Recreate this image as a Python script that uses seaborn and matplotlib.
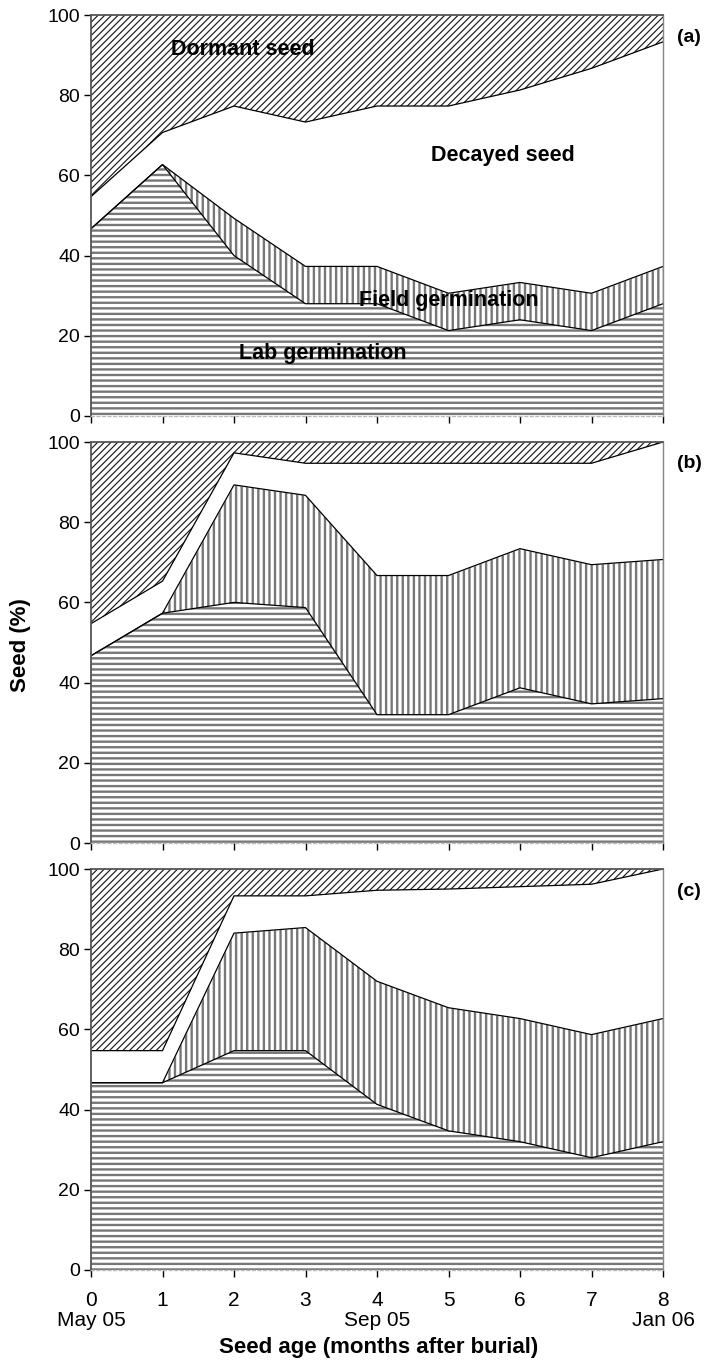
import matplotlib
matplotlib.use("Agg")
import numpy as np
import pandas as pd
import matplotlib.pyplot as plt
import seaborn as sns

# Seed age (months after burial) and calendar tick labels
months = [0, 1, 2, 3, 4, 5, 6, 7, 8]
month_labels = ["0\nMay 05", "1", "2", "3", "4\nSep 05", "5", "6", "7", "8\nJan 06"]
panel_tags = ["(a)", "(b)", "(c)"]

# Fate of buried seed (%), one set of series per panel
lab_a = [46.7, 62.7, 40.0, 28.0, 28.0, 21.3, 24.0, 21.3, 28.0]
field_a = [0.0, 0.0, 9.3, 9.3, 9.3, 9.3, 9.3, 9.3, 9.3]
dormant_a = [45.3, 29.3, 22.7, 26.7, 22.7, 22.7, 18.7, 13.3, 6.7]

lab_b = [46.7, 57.3, 60.0, 58.7, 32.0, 32.0, 38.7, 34.7, 36.0]
field_b = [0.0, 0.0, 29.3, 28.0, 34.7, 34.7, 34.7, 34.7, 34.7]
dormant_b = [45.3, 34.7, 2.7, 5.3, 5.3, 5.3, 5.3, 5.3, 0.0]

lab_c = [46.7, 46.7, 54.7, 54.7, 41.3, 34.7, 32.0, 28.0, 32.0]
field_c = [0.0, 0.0, 29.3, 30.7, 30.7, 30.7, 30.7, 30.7, 30.7]
dormant_c = [45.3, 45.3, 6.7, 6.7, 5.3, 5.0, 4.4, 3.8, 0.0]

panels = [
    (lab_a, field_a, dormant_a),
    (lab_b, field_b, dormant_b),
    (lab_c, field_c, dormant_c),
]

# Area labels drawn in the first panel: (text, month, percent)
area_labels = [
    ("Dormant seed", 2.13, 91.5),
    ("Decayed seed", 5.76, 65.0),
    ("Field germination", 5.0, 28.7),
    ("Lab germination", 3.24, 15.7),
]

sns.set_theme(style="ticks")
plt.rcParams["font.family"] = ["Liberation Sans", "DejaVu Sans"]
plt.rcParams["text.color"] = "black"
plt.rcParams["xtick.color"] = "black"
plt.rcParams["ytick.color"] = "black"
plt.rcParams["axes.labelcolor"] = "black"

fig = plt.figure(figsize=(7.07, 13.62), dpi=100)

left, width = 91 / 707, (663 - 91) / 707
tops_px = [15, 442, 869]
height_px = 401

# layer styles, bottom to top: hatch, hatch colour, hatch width
styles = [
    ("---", "#777777", 1.7),
    ("|||", "#777777", 1.7),
    (None, None, None),
    ("/////", "#1a1a1a", 0.85),
]


def hatched_fill(ax, x, lo, hi, hatch, color, lw):
    if hatch is None:
        ax.fill_between(x, lo, hi, facecolor="white", linewidth=0, zorder=1)
        return
    with plt.rc_context({"hatch.color": color, "hatch.linewidth": lw}):
        coll = ax.fill_between(x, lo, hi, facecolor="white", edgecolor=color,
                               hatch=hatch, linewidth=0, zorder=1)
    if hasattr(coll, "set_hatch_linewidth"):
        coll.set_hatch_linewidth(lw)
    if hasattr(coll, "set_hatchcolor"):
        coll.set_hatchcolor(color)


axes = []
for i, (lab, field, dormant) in enumerate(panels):
    top = tops_px[i]
    ax = fig.add_axes([left, 1 - (top + height_px) / 1362, width, height_px / 1362])
    axes.append(ax)

    lab = np.array(lab)
    field = np.array(field)
    dormant = np.array(dormant)
    decayed = 100 - lab - field - dormant
    layers = [lab, field, decayed, dormant]

    cum = np.vstack([np.zeros(len(months)), np.cumsum(layers, axis=0)])
    for k, (hatch, color, lw) in enumerate(styles):
        hatched_fill(ax, months, cum[k], cum[k + 1], hatch, color, lw)

    # boundary lines between the stacked layers
    bounds = pd.concat(
        [pd.DataFrame({"month": months, "pct": cum[k], "edge": k}) for k in (1, 2, 3)],
        ignore_index=True,
    )
    sns.lineplot(data=bounds, x="month", y="pct", units="edge", estimator=None,
                 color="black", linewidth=0.9, ax=ax, zorder=3, legend=False)

    ax.set_xlim(0, 8)
    ax.set_ylim(0, 100)
    ax.set_yticks([0, 20, 40, 60, 80, 100])
    ax.set_xticks(months)
    ax.set_xlabel("")
    ax.set_ylabel("")
    ax.tick_params(axis="y", labelsize=14, length=5, width=1, color="black",
                   labelcolor="black", direction="out", pad=3)
    ax.tick_params(axis="x", labelsize=15, length=5, width=1, color="black",
                   labelcolor="black", direction="out", pad=10)
    if i < 2:
        ax.set_xticklabels([])
    else:
        ax.set_xticklabels(month_labels, linespacing=1.1)

    for s in ["top", "right", "left", "bottom"]:
        ax.spines[s].set_visible(True)
        ax.spines[s].set_zorder(4)
    ax.spines["left"].set_color("#555555")
    ax.spines["left"].set_linewidth(1.3)
    ax.spines["top"].set_color("#555555")
    ax.spines["top"].set_linewidth(1.3)
    ax.spines["right"].set_color("#888888")
    ax.spines["right"].set_linewidth(1.0)
    ax.spines["right"].set_linestyle((0, (1, 1)))
    ax.spines["bottom"].set_color("#bbbbbb")
    ax.spines["bottom"].set_linewidth(1.0)
    ax.spines["bottom"].set_linestyle((0, (2, 2)))

    fig.text(689 / 707, 1 - (top + 22) / 1362, panel_tags[i], fontsize=14,
             fontweight="bold", ha="center", va="center")

for text, xm, yp in area_labels:
    axes[0].text(xm, yp, text, fontsize=15.5, fontweight="bold", ha="center",
                 va="center", zorder=5)

fig.text(379 / 707, 1 - 1348 / 1362, "Seed age (months after burial)",
         fontsize=16, fontweight="bold", ha="center", va="center")
fig.text(21 / 707, 1 - 645 / 1362, "Seed (%)", fontsize=16, fontweight="bold",
         ha="center", va="center", rotation=90)

fig.savefig("out.png", dpi=100)
